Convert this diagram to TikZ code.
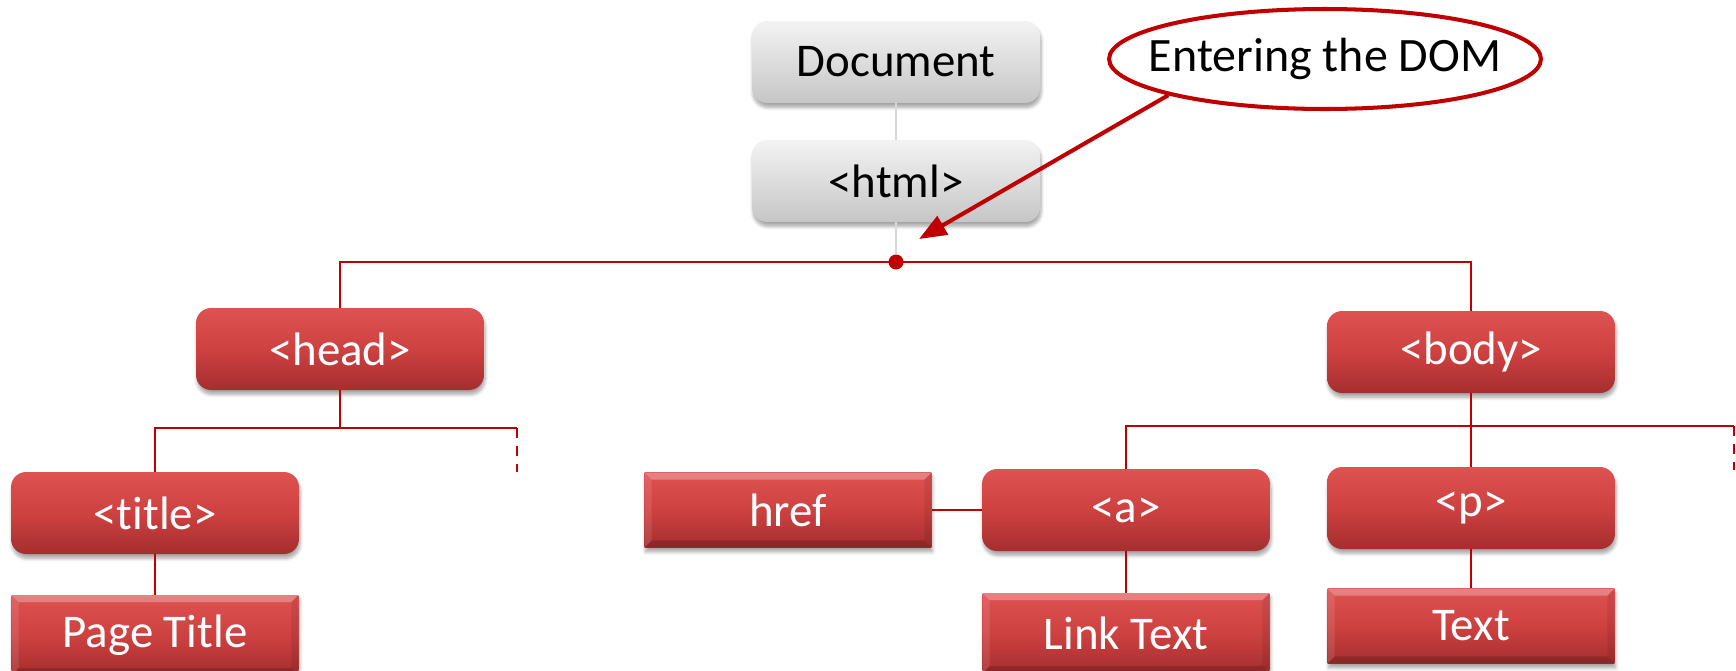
\documentclass[tikz,border=0pt]{standalone}
\usepackage{fontspec}
\setmainfont{Carlito}[Ligatures=NoCommon]
\usepackage{tikz}
\usetikzlibrary{positioning,calc,arrows.meta}
\usetikzlibrary{shapes,shadows,shadows.blur}

\definecolor{domred}{HTML}{C00000}
\definecolor{boxtop}{HTML}{DF5252}
\definecolor{boxmid}{HTML}{CE4141}
\definecolor{boxbot}{HTML}{A52E2E}
\definecolor{greytop}{HTML}{F3F3F3}
\definecolor{greybot}{HTML}{C6C6C6}

\begin{document}
\begin{tikzpicture}[x=0.02cm, y=-0.02cm,
  every node/.style={font=\fontsize{26.7}{32}\selectfont, inner sep=0pt},
  boxshadow/.style={blur shadow={shadow xshift=0.6pt, shadow yshift=-2.5pt, shadow opacity=35, shadow blur steps=6}},
  docbox/.style={rectangle, rounded corners=0.3cm, minimum width=5.76cm, minimum height=1.64cm,
    top color=greytop, bottom color=greybot, text=black, boxshadow},
  tagbox/.style={rectangle, rounded corners=0.3cm, minimum width=5.76cm, minimum height=1.64cm,
    top color=boxtop, bottom color=boxbot, middle color=boxmid, text=white, boxshadow},
  leafbox/.style={rectangle, minimum width=5.74cm, minimum height=1.5cm,
    top color=boxtop, bottom color=boxbot, middle color=boxmid, text=white, boxshadow,
    path picture={
      \fill[white,opacity=0.28] (path picture bounding box.north west) -- (path picture bounding box.north east)
        -- ([xshift=-4pt,yshift=-4pt]path picture bounding box.north east) -- ([xshift=4pt,yshift=-4pt]path picture bounding box.north west) -- cycle;
      \fill[white,opacity=0.1] (path picture bounding box.north west) -- ([xshift=4pt,yshift=-4pt]path picture bounding box.north west)
        -- ([xshift=4pt,yshift=4pt]path picture bounding box.south west) -- (path picture bounding box.south west) -- cycle;
      \fill[black,opacity=0.16] (path picture bounding box.south west) -- (path picture bounding box.south east)
        -- ([xshift=-4pt,yshift=4pt]path picture bounding box.south east) -- ([xshift=4pt,yshift=4pt]path picture bounding box.south west) -- cycle;
      \fill[black,opacity=0.08] (path picture bounding box.north east) -- ([xshift=-4pt,yshift=-4pt]path picture bounding box.north east)
        -- ([xshift=-4pt,yshift=4pt]path picture bounding box.south east) -- (path picture bounding box.south east) -- cycle;
    }},
  link/.style={draw=domred, line width=1.15pt},
  greylink/.style={draw=black!15, line width=1.15pt},
  morelink/.style={link, dash pattern=on 5.7pt off 4.5pt}]
  \useasboundingbox (0,0) rectangle (1736,670);

  \node[docbox] (document) at (896,62) {Document};
  \node[docbox] (html) at (896,181) {<html>};
  \node[tagbox] (head) at (340,349) {<head>};
  \node[tagbox] (body) at (1471,352) {<body>};
  \node[tagbox] (title) at (155,513) {<title>};
  \node[leafbox, minimum height=1.6cm] (pagetitle) at (155,635) {Page Title};
  \node[leafbox] (href) at (788,510) {href};
  \node[tagbox] (a) at (1126,510) {<a>};
  \node[leafbox, minimum height=1.6cm] (linktext) at (1126,633) {Link Text};
  \node[tagbox] (p) at (1471,508) {<p>};
  \node[leafbox] (text) at (1471,626) {Text};
  \node[circle, fill=domred, minimum size=0.3cm] (dot) at (896,262) {};
  \node[ellipse, draw=domred, line width=2.3pt, minimum width=8.64cm, minimum height=2cm,
    inner xsep=-60pt, inner ysep=-20pt, font=\fontsize{27.3}{32}\selectfont] (dom) at (1325,59) {\raisebox{-3pt}{Entering the DOM}};

  \coordinate (headmore) at (517,428);
  \coordinate (headend) at (517,472);
  \coordinate (bodymore) at (1734,426);
  \coordinate (bodyend) at (1734,470);
  \coordinate (arrowtip) at (919,239);

  \draw[greylink] (document.south) -- (html.north);
  \draw[greylink] (html.south) -- (dot.north);
  \draw[link] (head.north) |- (dot.center) -| (body.north);
  \draw[link] (head.south) -- (head.south |- headmore);
  \draw[link] (title.north) |- (headmore);
  \draw[morelink] (headmore) -- (headend);
  \draw[link] (title.south) -- (pagetitle.north);
  \draw[link] (body.south) -- (p.north);
  \draw[link] (a.north) |- (bodymore);
  \draw[morelink] (bodymore) -- (bodyend);
  \draw[link] (a.west) -- (href.east);
  \draw[link] (a.south) -- (linktext.north);
  \draw[link] (p.south) -- (text.north);
  \draw[link, line width=2.3pt, -{Triangle[length=0.55cm,width=0.42cm]}] (dom.193) -- (arrowtip);
\end{tikzpicture}
\end{document}
